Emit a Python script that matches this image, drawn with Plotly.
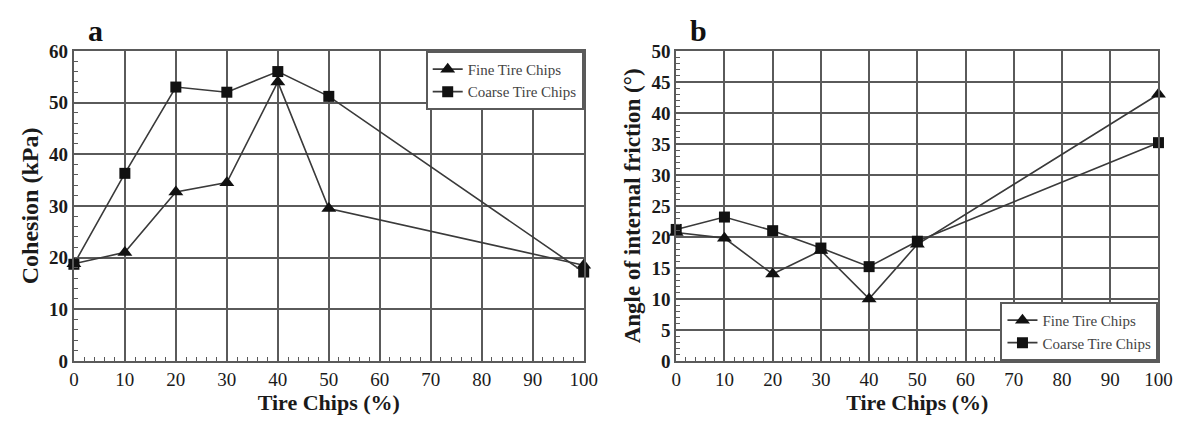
import plotly.graph_objects as go
from plotly.subplots import make_subplots

tire_chips = [0, 10, 20, 30, 40, 50, 100]
x_ticks = [0, 10, 20, 30, 40, 50, 60, 70, 80, 90, 100]
x_tick_labels = ["0", "10", "20", "30", "40", "50", "60", "70", "80", "90", "100"]

cohesion_fine = [18.8, 21.0, 32.7, 34.5, 54.0, 29.5, 18.5]
cohesion_coarse = [18.7, 36.3, 53.0, 52.0, 56.0, 51.2, 17.2]

friction_fine = [20.7, 19.8, 14.0, 17.8, 10.0, 18.8, 43.0]
friction_coarse = [21.2, 23.2, 21.0, 18.2, 15.2, 19.3, 35.2]

series_names = ["Fine Tire Chips", "Coarse Tire Chips"]

FONT = "Liberation Serif"
LINE = "#3a3a3a"
GRID = "#5a5a5a"

fig = make_subplots(rows=1, cols=2)

def add(x, y, name, symbol, col, legend):
    fig.add_trace(go.Scatter(
        x=x, y=y, name=name, mode="lines+markers",
        line=dict(color=LINE, width=1.6),
        marker=dict(symbol=symbol, size=11 if symbol == "square" else 13, color="#111111"),
        legend=legend, cliponaxis=False,
    ), row=1, col=col)

add(tire_chips, cohesion_fine, series_names[0], "triangle-up", 1, "legend")
add(tire_chips, cohesion_coarse, series_names[1], "square", 1, "legend")
add(tire_chips, friction_fine, series_names[0], "triangle-up", 2, "legend2")
add(tire_chips, friction_coarse, series_names[1], "square", 2, "legend2")

W, H = 1202, 428
ax_a = (70 / W, 588 / W)
ax_b = (682 / W, 1172 / W)
ydom = (1 - 369 / H, 1 - 43 / H)

common_x = dict(
    range=[0, 100], tickvals=x_ticks, ticktext=x_tick_labels,
    showgrid=True, gridcolor=GRID, gridwidth=2,
    showline=True, linecolor=GRID, linewidth=2, mirror=True,
    ticks="inside", ticklen=4, tickcolor=GRID,
    minor=dict(dtick=2, ticks="inside", ticklen=4, tickcolor=GRID, showgrid=False),
    tickfont=dict(family=FONT, size=19, color="#1a1a1a"),
    tickprefix="<b>", ticksuffix="</b>",
    title=dict(text="<b>Tire Chips (%)</b>", font=dict(family=FONT, size=22, color="#1a1a1a"), standoff=4),
    zeroline=False,
)

fig.update_xaxes(common_x, row=1, col=1)
fig.update_xaxes(common_x, row=1, col=2)
fig.update_layout(
    xaxis=dict(domain=ax_a),
    xaxis2=dict(domain=ax_b),
)

common_y = dict(
    showgrid=True, gridcolor=GRID, gridwidth=2,
    showline=True, linecolor=GRID, linewidth=2, mirror=True,
    ticks="inside", ticklen=4, tickcolor=GRID,
    tickfont=dict(family=FONT, size=19, color="#1a1a1a"),
    tickprefix="<b>", ticksuffix="</b>",
    zeroline=False, domain=ydom,
)
fig.update_yaxes(common_y, row=1, col=1)
fig.update_yaxes(common_y, row=1, col=2)
fig.update_yaxes(range=[0, 60], dtick=10,
                 minor=dict(dtick=2, ticks="inside", ticklen=4, tickcolor=GRID, showgrid=False),
                 title=dict(text="<b>Cohesion (kPa)</b>", font=dict(family=FONT, size=24, color="#1a1a1a"), standoff=4),
                 row=1, col=1)
fig.update_yaxes(range=[0, 50], dtick=5,
                 minor=dict(dtick=1, ticks="inside", ticklen=4, tickcolor=GRID, showgrid=False),
                 title=dict(text="<b>Angle of internal friction (°)</b>", font=dict(family=FONT, size=23, color="#1a1a1a"), standoff=4),
                 row=1, col=2)

legend_style = dict(
    font=dict(family=FONT, size=15, color="#444"),
    bgcolor="white", bordercolor=GRID, borderwidth=2,
    tracegroupgap=0, itemwidth=30,
)
fig.update_layout(
    width=W, height=H,
    margin=dict(l=0, r=0, t=0, b=0),
    paper_bgcolor="white", plot_bgcolor="white",
    legend=dict(legend_style, x=ax_a[1], y=ydom[1], xanchor="right", yanchor="top"),
    legend2=dict(legend_style, x=ax_b[1], y=ydom[0], xanchor="right", yanchor="bottom"),
    annotations=[
        dict(text="<b>a</b>", x=82 / W, y=1 - 22 / H, xref="paper", yref="paper",
             showarrow=False, xanchor="left", yanchor="middle",
             font=dict(family=FONT, size=30, color="#111")),
        dict(text="<b>b</b>", x=694 / W, y=1 - 22 / H, xref="paper", yref="paper",
             showarrow=False, xanchor="left", yanchor="middle",
             font=dict(family=FONT, size=30, color="#111")),
    ],
)

fig.write_html("out.html")
